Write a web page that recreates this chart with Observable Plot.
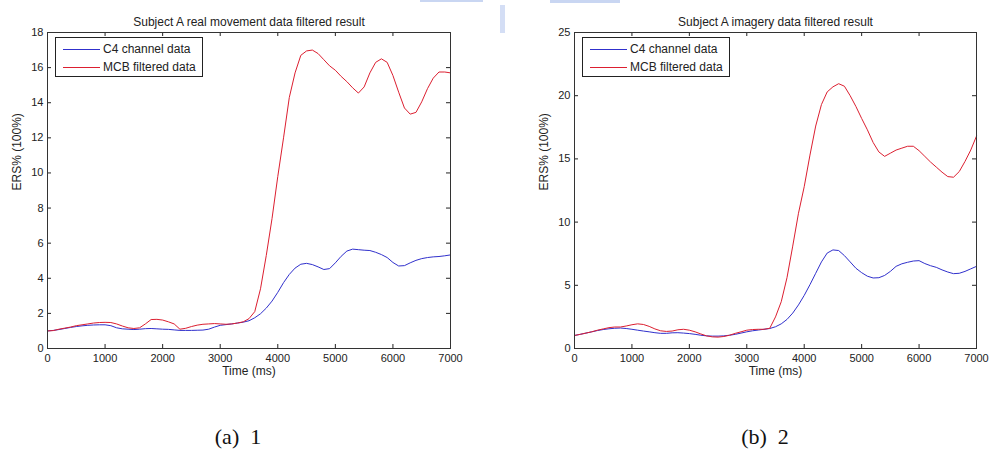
<!DOCTYPE html>
<html>
<head>
<meta charset="utf-8">
<script src="https://cdn.jsdelivr.net/npm/d3@7"></script>
<script src="https://cdn.jsdelivr.net/npm/@observablehq/plot@0.6"></script>
<style>
  html, body { margin: 0; padding: 0; background: #fff; }
  #page { position: relative; width: 989px; height: 453px; overflow: hidden; background: #fff; }
  .chart { position: absolute; top: 0; }
  .caption { position: absolute; top: 424px; font-family: "Liberation Serif", "Times New Roman", serif; font-size: 22px; color: #111; white-space: pre; transform: translateX(-50%); }
  .scan { position: absolute; background: #c9d6f2; }
</style>
</head>
<body>
<div id="page">
  <div id="left" class="chart" style="left:0px;"></div>
  <div id="right" class="chart" style="left:494px;"></div>
  <div class="scan" style="left:420px;top:0;width:63px;height:2px;"></div>
  <div class="scan" style="left:550px;top:0;width:70px;height:3px;"></div>
  <div class="scan" style="left:500px;top:5px;width:5px;height:28px;opacity:0.8;"></div>
  <div class="caption" style="left:238px;">(a)  1</div>
  <div class="caption" style="left:765px;">(b)  2</div>
</div>
<script>
// ---- data ----
const timeMs = [0,100,200,300,400,500,600,700,800,900,1000,1100,1200,1300,1400,1500,1600,1700,1800,1900,2000,2100,2200,2300,2400,2500,2600,2700,2800,2900,3000,3100,3200,3300,3400,3500,3600,3700,3800,3900,4000,4100,4200,4300,4400,4500,4600,4700,4800,4900,5000,5100,5200,5300,5400,5500,5600,5700,5800,5900,6000,6100,6200,6300,6400,6500,6600,6700,6800,6900,7000];

const seriesNames = ["C4 channel data", "MCB filtered data"];
const titles = ["Subject A real movement data filtered result", "Subject A imagery data filtered result"];
const xLabel = "Time (ms)";
const yLabel = "ERS% (100%)";
const captions = ["(a)  1", "(b)  2"];
const xTicks = [0,1000,2000,3000,4000,5000,6000,7000];
const yTicksA = [0,2,4,6,8,10,12,14,16,18];
const yTicksB = [0,5,10,15,20,25];

// chart (a): real movement
const c4Movement = [1.00,1.03,1.08,1.14,1.20,1.25,1.29,1.32,1.34,1.35,1.35,1.30,1.18,1.12,1.10,1.08,1.10,1.13,1.14,1.12,1.10,1.09,1.06,1.03,1.03,1.03,1.04,1.05,1.10,1.22,1.32,1.36,1.40,1.45,1.50,1.58,1.75,1.98,2.30,2.70,3.20,3.75,4.22,4.58,4.80,4.85,4.78,4.65,4.50,4.55,4.88,5.25,5.55,5.66,5.63,5.60,5.58,5.48,5.35,5.18,4.90,4.70,4.72,4.88,5.02,5.12,5.18,5.22,5.24,5.28,5.33];
const mcbMovement = [1.00,1.02,1.10,1.16,1.22,1.30,1.35,1.40,1.45,1.48,1.49,1.48,1.40,1.28,1.18,1.14,1.18,1.40,1.65,1.66,1.62,1.52,1.40,1.10,1.15,1.25,1.33,1.38,1.40,1.42,1.40,1.38,1.40,1.45,1.52,1.70,2.10,3.40,5.30,7.40,9.80,12.00,14.30,15.70,16.70,16.95,17.00,16.80,16.45,16.10,15.85,15.50,15.20,14.85,14.55,14.90,15.70,16.30,16.50,16.30,15.55,14.60,13.70,13.35,13.45,14.05,14.80,15.40,15.75,15.75,15.70];

// chart (b): imagery
const c4Imagery = [1.03,1.12,1.22,1.32,1.42,1.50,1.56,1.60,1.62,1.58,1.52,1.45,1.38,1.32,1.25,1.20,1.20,1.24,1.25,1.22,1.18,1.12,1.05,1.00,0.98,0.98,1.00,1.05,1.12,1.22,1.32,1.40,1.46,1.52,1.58,1.72,1.95,2.30,2.80,3.45,4.20,5.05,5.95,6.85,7.55,7.80,7.75,7.35,6.85,6.35,6.00,5.72,5.58,5.60,5.78,6.10,6.50,6.70,6.82,6.92,6.95,6.72,6.55,6.42,6.22,6.05,5.92,5.95,6.10,6.30,6.50];
const mcbImagery = [1.03,1.12,1.22,1.32,1.45,1.55,1.65,1.70,1.70,1.78,1.88,1.95,1.90,1.75,1.55,1.40,1.35,1.38,1.48,1.52,1.45,1.32,1.15,1.00,0.92,0.90,0.95,1.05,1.20,1.32,1.45,1.50,1.52,1.52,1.60,2.50,3.70,5.60,8.10,10.70,12.80,15.30,17.60,19.30,20.30,20.70,20.95,20.75,20.00,19.15,18.20,17.30,16.30,15.55,15.20,15.45,15.70,15.85,16.00,16.00,15.65,15.20,14.75,14.35,13.95,13.60,13.55,14.00,14.80,15.70,16.80];

// ---- drawing ----
const BLUE = "#3030cc";
const RED = "#dc1f30";
const INK = "#222";
const FONT = "'Liberation Sans', Arial, Helvetica, sans-serif";

function toRows(values) { return timeMs.map((t, i) => ({t, v: values[i]})); }

function makeChart({width, marginLeft, marginRight, yMax, yTicks, title, c4, mcb}) {
  const height = 385, marginTop = 32, marginBottom = 37;
  const fw = width - marginLeft - marginRight;
  const fh = height - marginTop - marginBottom;
  const tick = 4;
  const svg = Plot.plot({
    width, height, marginLeft, marginRight, marginTop, marginBottom,
    style: {fontFamily: FONT, fontSize: "11px", color: INK, background: "white", overflow: "visible"},
    x: {domain: [0, 7000], ticks: xTicks, tickSize: 0, tickPadding: 6, label: null, tickFormat: d => String(d)},
    y: {domain: [0, yMax], ticks: yTicks, tickSize: 0, tickPadding: 4, label: null, tickFormat: d => String(d)},
    marks: [
      Plot.tickX(xTicks, {x: d => d, insetTop: fh - tick, stroke: INK}),
      Plot.tickX(xTicks, {x: d => d, insetBottom: fh - tick, stroke: INK}),
      Plot.tickY(yTicks, {y: d => d, insetRight: fw - tick, stroke: INK}),
      Plot.tickY(yTicks, {y: d => d, insetLeft: fw - tick, stroke: INK}),
      Plot.line(toRows(c4), {x: "t", y: "v", stroke: BLUE, strokeWidth: 1}),
      Plot.line(toRows(mcb), {x: "t", y: "v", stroke: RED, strokeWidth: 1}),
      Plot.frame({stroke: "#333", strokeWidth: 1}),
      Plot.text([title], {frameAnchor: "top", dy: -15, fontSize: 12, fill: INK}),
      Plot.text([xLabel], {frameAnchor: "bottom", dy: 26, fontSize: 12, fill: INK}),
      Plot.text([yLabel], {frameAnchor: "left", dx: -30, rotate: -90, fontSize: 12, fill: INK})
    ]
  });
  // legend box (MATLAB style), inside top-left of the frame
  const s = d3.select(svg);
  const bx = marginLeft + 8, by = marginTop + 5, bw = 147, bh = 39;
  const g = s.append("g").attr("font-family", FONT).attr("font-size", 12).attr("text-anchor", "start");
  g.append("rect").attr("x", bx + 0.5).attr("y", by + 0.5).attr("width", bw).attr("height", bh)
    .attr("fill", "white").attr("stroke", "#222");
  [[seriesNames[0], BLUE, 12], [seriesNames[1], RED, 30]].forEach(([name, color, dy]) => {
    g.append("line").attr("x1", bx + 8).attr("x2", bx + 45).attr("y1", by + dy + 0.5).attr("y2", by + dy + 0.5)
      .attr("stroke", color).attr("stroke-width", 1);
    g.append("text").attr("x", bx + 48).attr("y", by + dy).attr("dy", "0.35em").attr("fill", INK)
      .attr("text-anchor", "start").text(name);
  });
  return svg;
}

document.getElementById("left").append(makeChart({
  width: 494, marginLeft: 47, marginRight: 44, yMax: 18, yTicks: yTicksA,
  title: titles[0], c4: c4Movement, mcb: mcbMovement
}));
document.getElementById("right").append(makeChart({
  width: 495, marginLeft: 80, marginRight: 13, yMax: 25, yTicks: yTicksB,
  title: titles[1], c4: c4Imagery, mcb: mcbImagery
}));
</script>
</body>
</html>
